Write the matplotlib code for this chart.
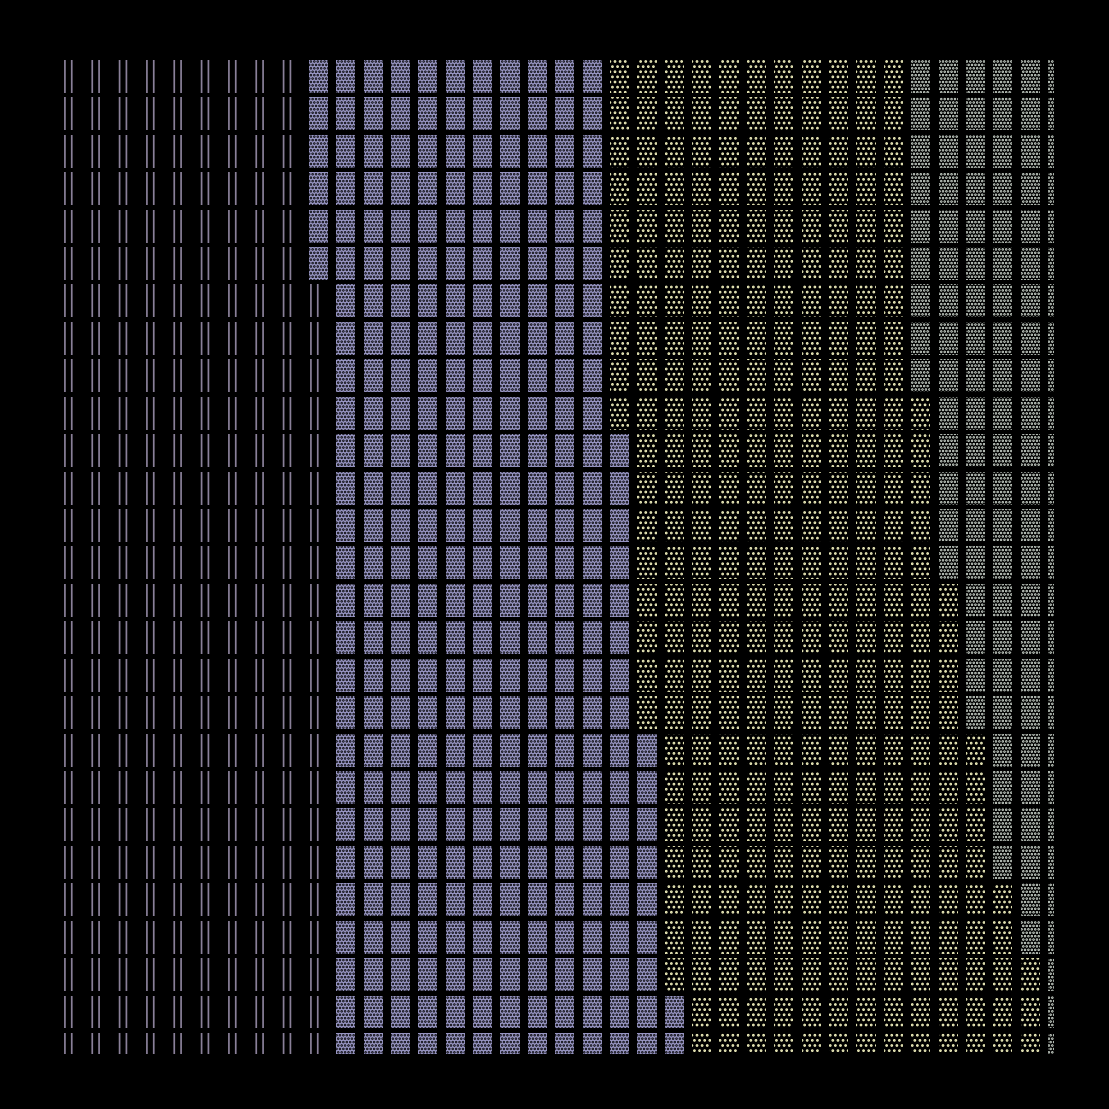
import matplotlib
matplotlib.use("Agg")
import matplotlib.pyplot as plt

# number of cells per row for each category (27 rows, 37 columns, row 0 at top)
n_cols = 37
cat_a = [9] * 6 + [10] * 21
cat_b = [11] * 6 + [10] * 4 + [11] * 8 + [12] * 7 + [13] * 2
cat_c = [11] * 9 + [12] + [11] * 4 + [12] * 4 + [12] * 4 + [13] * 2 + [14] + [13] * 2
cat_d = [6] * 9 + [5] * 5 + [4] * 4 + [3] * 4 + [2] * 2 + [1] * 3

counts = [cat_a, cat_b, cat_c, cat_d]
faces = ["#000000", "#9795c2", "#000000", "#000000"]
hatch_colors = ["#8a8099", "#000000", "#eeedbb", "#e2ece2"]
hatches = ["|||", "......", "....", "......"]
# the line-hatched cells have a black face, so a narrower box only trims the hatch
widths = [0.50, 0.70, 0.70, 0.70]

fig = plt.figure(figsize=(9, 9), dpi=1109 / 9, facecolor="black")
ax = fig.add_axes([0.05, 0.05, 0.9, 0.9])
ax.set_facecolor("black")

start = [0] * len(cat_a)
for k in range(len(counts)):
    xs, ys = [], []
    for row, n in enumerate(counts[k]):
        for c in range(start[row], start[row] + n):
            xs.append(c)
            ys.append(row)
        start[row] += n
    ax.bar(xs, 0.88, width=widths[k], bottom=ys, align="edge",
           color=faces[k], edgecolor=hatch_colors[k], linewidth=0,
           hatch=hatches[k])

ax.set_xlim(-0.25, 36.20)
ax.set_ylim(26.55, -0.12)
ax.axis("off")

plt.savefig("out.png", facecolor="black")
